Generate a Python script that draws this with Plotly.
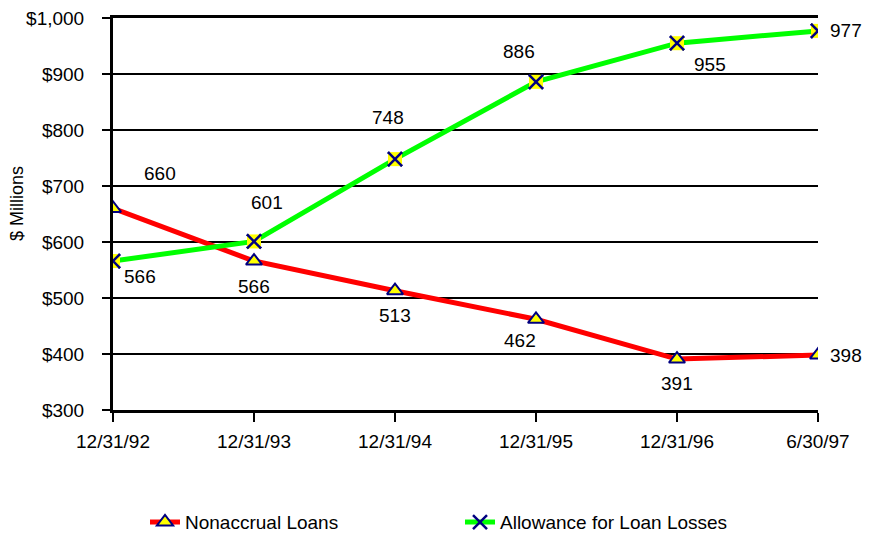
import plotly.graph_objects as go

dates = ["12/31/92", "12/31/93", "12/31/94", "12/31/95", "12/31/96", "6/30/97"]
nonaccrual = [660, 566, 513, 462, 391, 398]
allowance = [566, 601, 748, 886, 955, 977]
y_ticks = [300, 400, 500, 600, 700, 800, 900, 1000]
y_tick_labels = ["$300", "$400", "$500", "$600", "$700", "$800", "$900", "$1,000"]
y_title = "$ Millions"

# label offsets (px) for the data labels
non_off = [(47, 35), (0, -25), (0, -25), (-16, -21), (0, -24), (28, 0)]
all_off = [(27, -15), (13, 39), (-7, 42), (-17, 30), (33, -21), (28, 0)]

FONT = "Liberation Sans, Arial, sans-serif"
xi = list(range(len(dates)))

fig = go.Figure()
fig.add_trace(go.Scatter(
    x=xi, y=nonaccrual, mode="lines+markers", name="Nonaccrual Loans",
    line=dict(color="#ff0000", width=5),
    marker=dict(symbol="triangle-up", size=14, color="#ffff00",
                line=dict(color="#000080", width=2)),
))
fig.add_trace(go.Scatter(
    x=xi, y=allowance, mode="lines+markers", name="Allowance for Loan Losses",
    legendgroup="a",
    line=dict(color="#00ff00", width=5),
    marker=dict(symbol="x-thin-open", size=14, color="#000080",
                line=dict(color="#000080", width=2.5)),
))
fig.add_trace(go.Scatter(
    x=xi, y=allowance, mode="markers", showlegend=False, legendgroup="a",
    marker=dict(symbol="square", size=14, color="#ffff00", line=dict(width=0)),
))
fig.add_trace(go.Scatter(
    x=xi, y=allowance, mode="markers", showlegend=False, legendgroup="a",
    marker=dict(symbol="x-thin-open", size=14, color="#000080",
                line=dict(color="#000080", width=2.5)),
))

annotations = []
for i, v in enumerate(nonaccrual):
    dx, dy = non_off[i]
    annotations.append(dict(x=i, y=v, text=str(v), showarrow=False,
                            xshift=dx, yshift=dy,
                            font=dict(family=FONT, size=19, color="black")))
for i, v in enumerate(allowance):
    dx, dy = all_off[i]
    annotations.append(dict(x=i, y=v, text=str(v), showarrow=False,
                            xshift=dx, yshift=dy,
                            font=dict(family=FONT, size=19, color="black")))
annotations.append(dict(x=-0.136, y=0.5, xref="paper", yref="paper",
                        text=y_title, textangle=-90, showarrow=False,
                        xanchor="center", yanchor="middle", yshift=10,
                        font=dict(family=FONT, size=18, color="black")))

fig.update_layout(
    width=872, height=535,
    margin=dict(l=113, r=54, t=18, b=125, autoexpand=False),
    paper_bgcolor="white", plot_bgcolor="white",
    font=dict(family=FONT, size=19, color="black"),
    annotations=annotations,
    showlegend=True,
    legend=dict(orientation="h", x=145 / 872, xref="container", xanchor="left",
                y=0.024, yref="container", yanchor="middle",
                font=dict(family=FONT, size=19), itemwidth=30,
                traceorder="normal", entrywidth=270, entrywidthmode="pixels"),
    xaxis=dict(
        range=[0, 5], tickvals=xi, ticktext=dates,
        showgrid=False, zeroline=False, automargin=False,
        showline=True, linecolor="black", linewidth=3, mirror=True,
        ticks="outside", ticklen=9, tickwidth=2, tickcolor="black",
        tickfont=dict(size=19), fixedrange=True, ticklabelstandoff=3,
    ),
    yaxis=dict(
        range=[300, 1000], tickvals=y_ticks, ticktext=y_tick_labels,
        showgrid=True, gridcolor="black", gridwidth=2, automargin=False,
        zeroline=False, showline=True, linecolor="black", linewidth=3,
        ticks="outside", ticklen=8, tickwidth=2, tickcolor="black",
        tickfont=dict(size=19), ticklabelstandoff=14, fixedrange=True,
    ),
)

fig.write_html("out.html", config={"displayModeBar": False},
               post_script="document.body.style.margin='0';")
